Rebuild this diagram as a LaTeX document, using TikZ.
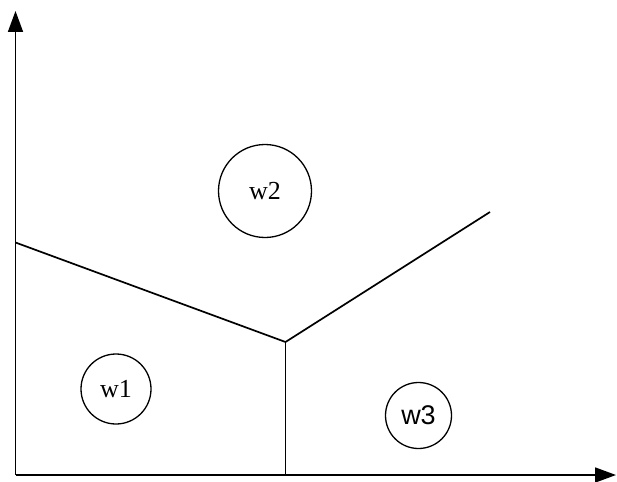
\documentclass[tikz,border=0pt]{standalone}
\usetikzlibrary{arrows.meta}
\usepackage{fontspec}
\setmainfont{Liberation Serif}
\newfontfamily\arialf{Liberation Sans}
\begin{document}
\begin{tikzpicture}[x=1pt,y=-1pt,
  axis/.style={line width=1.7pt,-{Triangle[length=21pt,width=15pt]}},
  border/.style={line width=1.7pt},
  region/.style={circle,draw,line width=1.3pt,inner sep=0pt},
  serif/.style={font=\fontsize{26}{26}\selectfont},
  sans/.style={font=\arialf\fontsize{27}{27}\selectfont}]
\useasboundingbox (0,0) rectangle (617,481);
\coordinate (O) at (15.5,475);
\coordinate (ytip) at (15.5,11);
\coordinate (xtip) at (616,475);
\coordinate (L) at (15.5,242.5);
\coordinate (J) at (285.5,342);
\coordinate (B) at (285.5,475);
\coordinate (R) at (490,212);
\draw[axis] (O) -- (ytip);
\draw[axis] (O) -- (xtip);
\draw[border] (L) -- (J) -- (R);
\draw[border] (J) -- (B);
\node[region,serif,minimum size=93pt] (w2) at (265,191) {w2};
\node[region,serif,minimum size=70pt] (w1) at (116,389) {w1};
\node[region,sans,minimum size=66pt] (w3) at (418.5,415.5) {w3};
\end{tikzpicture}
\end{document}
